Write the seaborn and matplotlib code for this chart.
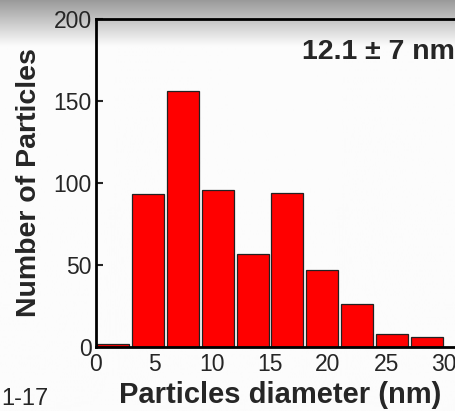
import numpy as np
import seaborn as sns
import matplotlib.pyplot as plt

# histogram bins (nm) and counts
bin_centers = [1.5, 4.5, 7.5, 10.5, 13.5, 16.5, 19.5, 22.5, 25.5, 28.5]
counts = [2, 93, 156, 96, 57, 94, 47, 26, 8, 6]
x_ticks = [0, 5, 10, 15, 20, 25, 30]
y_ticks = [0, 50, 100, 150, 200]

sns.set_style("ticks")
plt.rcParams['font.family'] = ['Liberation Sans', 'DejaVu Sans']

W, H = 456, 411
fig = plt.figure(figsize=(W / 100, H / 100), dpi=100)
fig.patch.set_facecolor("white")

# grey slide gradient at the top of the image
bg = fig.add_axes([0, 0, 1, 1], zorder=0)
grad = np.clip(0.60 + np.linspace(0, 1, H) * 0.40 * H / 48, 0.6, 0.985)
grad = np.tile(grad[:, None], (1, 2))
bg.imshow(grad, cmap="gray", vmin=0, vmax=1, aspect="auto",
          extent=[0, 1, 0, 1], origin="upper")
bg.axis("off")

ax = fig.add_axes([96 / W, 64 / H, 362 / W, 328 / H], zorder=1)
ax.patch.set_alpha(0)

sns.barplot(x=bin_centers, y=counts, native_scale=True, width=0.92,
            color="#ff0000", saturation=1, edgecolor="#222222",
            linewidth=0.9, ax=ax)

ax.set_xlim(0, 31.2)
ax.set_ylim(0, 200)
ax.set_xticks(x_ticks)
ax.set_yticks(y_ticks)
ax.tick_params(axis="y", direction="in", length=5, width=1.5, labelsize=16.5, pad=3)
ax.tick_params(axis="x", length=0, labelsize=16.5, pad=4)
for s in ax.spines.values():
    s.set_linewidth(2)
    s.set_color("black")

ax.set_xlabel("Particles diameter (nm)", fontsize=21, fontweight="bold")
ax.xaxis.set_label_coords(0.51, -0.105)
ax.set_ylabel("Number of Particles", fontsize=20.5, fontweight="bold")
ax.yaxis.set_label_coords(-0.15, 0.5)

fig.text(455 / W, 1 - 59 / H, "12.1 \u00b1 7 nm", ha="right", va="baseline",
         fontsize=20.5, fontweight="bold")
fig.text(1 / W, 1 / H, "1-17", ha="left", va="bottom", fontsize=17)

fig.savefig("out.png", dpi=100)
